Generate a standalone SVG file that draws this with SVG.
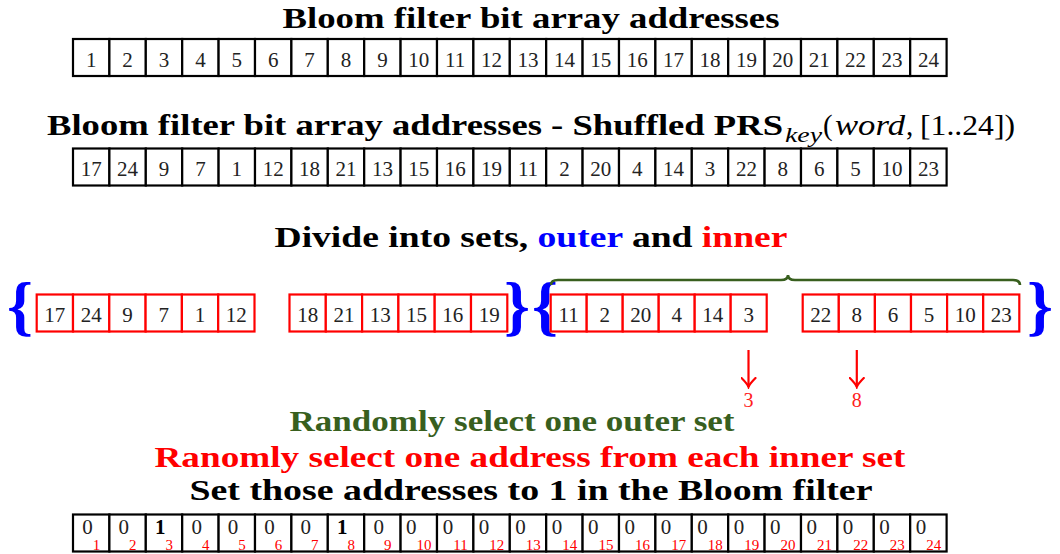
<svg xmlns="http://www.w3.org/2000/svg" width="1060" height="554" viewBox="0 0 1060 554" font-family="Liberation Serif, Times New Roman, Times, DejaVu Serif, Noto Serif, serif">
<style>
text{font-family:'Liberation Serif','Times New Roman',Times,'DejaVu Serif','Noto Serif',serif}
.t{font-weight:bold;font-size:29px;fill:#000;text-anchor:middle}
.c{fill:#fff;stroke:#000;stroke-width:2.2}
.r{fill:#fff;stroke:#ff0000;stroke-width:2.2}
.n{font-size:21px;fill:#222;text-anchor:middle}
.b{font-weight:bold;font-size:66px;fill:#0000ff;text-anchor:middle}
.s{font-size:15px;fill:#ff0000}
.lbl{font-size:20px;fill:#ff2020;text-anchor:middle}
.m{font-weight:normal}
.mi{font-weight:normal;font-style:italic}
</style>
<defs>
<marker id="ah" viewBox="-10 -8 12 16" markerWidth="12" markerHeight="16" refX="0" refY="0" orient="auto" markerUnits="userSpaceOnUse">
<path d="M-9,-7 Q-3,-1 0,0 Q-3,1 -9,7" fill="none" stroke="#ff0000" stroke-width="2.2" stroke-linecap="round"/>
</marker>
</defs>

<g id="title1"><text class="t" x="531" y="28" textLength="497" lengthAdjust="spacingAndGlyphs">Bloom filter bit array addresses</text></g>

<g id="array-addresses">
<rect class="c" x="73" y="39" width="36.4" height="37"/><rect class="c" x="109.4" y="39" width="36.4" height="37"/><rect class="c" x="145.8" y="39" width="36.4" height="37"/><rect class="c" x="182.2" y="39" width="36.4" height="37"/><rect class="c" x="218.6" y="39" width="36.4" height="37"/><rect class="c" x="255" y="39" width="36.4" height="37"/><rect class="c" x="291.4" y="39" width="36.4" height="37"/><rect class="c" x="327.8" y="39" width="36.4" height="37"/><rect class="c" x="364.2" y="39" width="36.4" height="37"/><rect class="c" x="400.6" y="39" width="36.4" height="37"/><rect class="c" x="437" y="39" width="36.4" height="37"/><rect class="c" x="473.4" y="39" width="36.4" height="37"/><rect class="c" x="509.8" y="39" width="36.4" height="37"/><rect class="c" x="546.2" y="39" width="36.4" height="37"/><rect class="c" x="582.6" y="39" width="36.4" height="37"/><rect class="c" x="619" y="39" width="36.4" height="37"/><rect class="c" x="655.4" y="39" width="36.4" height="37"/><rect class="c" x="691.8" y="39" width="36.4" height="37"/><rect class="c" x="728.2" y="39" width="36.4" height="37"/><rect class="c" x="764.6" y="39" width="36.4" height="37"/><rect class="c" x="801" y="39" width="36.4" height="37"/><rect class="c" x="837.4" y="39" width="36.4" height="37"/><rect class="c" x="873.8" y="39" width="36.4" height="37"/><rect class="c" x="910.2" y="39" width="36.4" height="37"/>
<text class="n" y="66.5"><tspan x="91.2">1</tspan><tspan x="127.6">2</tspan><tspan x="164">3</tspan><tspan x="200.4">4</tspan><tspan x="236.8">5</tspan><tspan x="273.2">6</tspan><tspan x="309.6">7</tspan><tspan x="346">8</tspan><tspan x="382.4">9</tspan><tspan x="418.8">10</tspan><tspan x="455.2">11</tspan><tspan x="491.6">12</tspan><tspan x="528">13</tspan><tspan x="564.4">14</tspan><tspan x="600.8">15</tspan><tspan x="637.2">16</tspan><tspan x="673.6">17</tspan><tspan x="710">18</tspan><tspan x="746.4">19</tspan><tspan x="782.8">20</tspan><tspan x="819.2">21</tspan><tspan x="855.6">22</tspan><tspan x="892">23</tspan><tspan x="928.4">24</tspan></text>
</g>

<g id="title2"><text class="t" x="47" y="135" style="text-anchor:start"><tspan textLength="736" lengthAdjust="spacingAndGlyphs">Bloom filter bit array addresses - Shuffled PRS</tspan><tspan class="mi" x="785" dy="7" style="font-size:20px" textLength="37" lengthAdjust="spacingAndGlyphs">key</tspan><tspan class="m" x="823" dy="-7">(</tspan><tspan class="mi" x="835" textLength="70" lengthAdjust="spacingAndGlyphs">word</tspan><tspan class="m" x="906">,</tspan><tspan class="m" x="920" textLength="95" lengthAdjust="spacingAndGlyphs">[1..24])</tspan></text></g>

<g id="array-shuffled">
<rect class="c" x="73" y="148.5" width="36.4" height="37"/><rect class="c" x="109.4" y="148.5" width="36.4" height="37"/><rect class="c" x="145.8" y="148.5" width="36.4" height="37"/><rect class="c" x="182.2" y="148.5" width="36.4" height="37"/><rect class="c" x="218.6" y="148.5" width="36.4" height="37"/><rect class="c" x="255" y="148.5" width="36.4" height="37"/><rect class="c" x="291.4" y="148.5" width="36.4" height="37"/><rect class="c" x="327.8" y="148.5" width="36.4" height="37"/><rect class="c" x="364.2" y="148.5" width="36.4" height="37"/><rect class="c" x="400.6" y="148.5" width="36.4" height="37"/><rect class="c" x="437" y="148.5" width="36.4" height="37"/><rect class="c" x="473.4" y="148.5" width="36.4" height="37"/><rect class="c" x="509.8" y="148.5" width="36.4" height="37"/><rect class="c" x="546.2" y="148.5" width="36.4" height="37"/><rect class="c" x="582.6" y="148.5" width="36.4" height="37"/><rect class="c" x="619" y="148.5" width="36.4" height="37"/><rect class="c" x="655.4" y="148.5" width="36.4" height="37"/><rect class="c" x="691.8" y="148.5" width="36.4" height="37"/><rect class="c" x="728.2" y="148.5" width="36.4" height="37"/><rect class="c" x="764.6" y="148.5" width="36.4" height="37"/><rect class="c" x="801" y="148.5" width="36.4" height="37"/><rect class="c" x="837.4" y="148.5" width="36.4" height="37"/><rect class="c" x="873.8" y="148.5" width="36.4" height="37"/><rect class="c" x="910.2" y="148.5" width="36.4" height="37"/>
<text class="n" y="175.5"><tspan x="91.2">17</tspan><tspan x="127.6">24</tspan><tspan x="164">9</tspan><tspan x="200.4">7</tspan><tspan x="236.8">1</tspan><tspan x="273.2">12</tspan><tspan x="309.6">18</tspan><tspan x="346">21</tspan><tspan x="382.4">13</tspan><tspan x="418.8">15</tspan><tspan x="455.2">16</tspan><tspan x="491.6">19</tspan><tspan x="528">11</tspan><tspan x="564.4">2</tspan><tspan x="600.8">20</tspan><tspan x="637.2">4</tspan><tspan x="673.6">14</tspan><tspan x="710">3</tspan><tspan x="746.4">22</tspan><tspan x="782.8">8</tspan><tspan x="819.2">6</tspan><tspan x="855.6">5</tspan><tspan x="892">10</tspan><tspan x="928.4">23</tspan></text>
</g>

<g id="title3"><text class="t" x="531" y="247" textLength="513" lengthAdjust="spacingAndGlyphs">Divide into sets, <tspan fill="#0000ff">outer</tspan> and <tspan fill="#ff0000">inner</tspan></text></g>

<g id="braces">
<text class="b" x="20" y="328">{</text>
<text class="b" x="517" y="328">}</text>
<text class="b" x="545" y="328">{</text>
<text class="b" x="1040" y="328">}</text>
<path d="M551,285 Q551,280 558,280 L781,280 Q788,280 788,275 Q788,280 795,280 L1013,280 Q1020,280 1020,285" fill="none" stroke="#385f1e" stroke-width="2.6"/>
</g>

<g id="inner-set-1">
<rect class="r" x="36.7" y="294.5" width="36.3" height="37"/><rect class="r" x="73" y="294.5" width="36.3" height="37"/><rect class="r" x="109.3" y="294.5" width="36.3" height="37"/><rect class="r" x="145.6" y="294.5" width="36.3" height="37"/><rect class="r" x="181.9" y="294.5" width="36.3" height="37"/><rect class="r" x="218.2" y="294.5" width="36.3" height="37"/>
<text class="n" y="321.5"><tspan x="54.85">17</tspan><tspan x="91.15">24</tspan><tspan x="127.45">9</tspan><tspan x="163.75">7</tspan><tspan x="200.05">1</tspan><tspan x="236.35">12</tspan></text>
</g>
<g id="inner-set-2">
<rect class="r" x="289.5" y="294.5" width="36.3" height="37"/><rect class="r" x="325.8" y="294.5" width="36.3" height="37"/><rect class="r" x="362.1" y="294.5" width="36.3" height="37"/><rect class="r" x="398.4" y="294.5" width="36.3" height="37"/><rect class="r" x="434.7" y="294.5" width="36.3" height="37"/><rect class="r" x="471" y="294.5" width="36.3" height="37"/>
<text class="n" y="321.5"><tspan x="307.65">18</tspan><tspan x="343.95">21</tspan><tspan x="380.25">13</tspan><tspan x="416.55">15</tspan><tspan x="452.85">16</tspan><tspan x="489.15">19</tspan></text>
</g>
<g id="inner-set-3">
<rect class="r" x="550.7" y="294.5" width="36" height="37"/><rect class="r" x="586.7" y="294.5" width="36" height="37"/><rect class="r" x="622.7" y="294.5" width="36" height="37"/><rect class="r" x="658.7" y="294.5" width="36" height="37"/><rect class="r" x="694.7" y="294.5" width="36" height="37"/><rect class="r" x="730.7" y="294.5" width="36" height="37"/>
<text class="n" y="321.5"><tspan x="568.7">11</tspan><tspan x="604.7">2</tspan><tspan x="640.7">20</tspan><tspan x="676.7">4</tspan><tspan x="712.7">14</tspan><tspan x="748.7">3</tspan></text>
</g>
<g id="inner-set-4">
<rect class="r" x="802.7" y="294.5" width="36.1" height="37"/><rect class="r" x="838.8" y="294.5" width="36.1" height="37"/><rect class="r" x="874.9" y="294.5" width="36.1" height="37"/><rect class="r" x="911" y="294.5" width="36.1" height="37"/><rect class="r" x="947.1" y="294.5" width="36.1" height="37"/><rect class="r" x="983.2" y="294.5" width="36.1" height="37"/>
<text class="n" y="321.5"><tspan x="820.75">22</tspan><tspan x="856.85">8</tspan><tspan x="892.95">6</tspan><tspan x="929.05">5</tspan><tspan x="965.15">10</tspan><tspan x="1001.25">23</tspan></text>
</g>

<g id="connectors">
<line x1="748.5" y1="350" x2="748.5" y2="387" stroke="#ff0000" stroke-width="2.2" marker-end="url(#ah)"/>
<line x1="856.8" y1="350" x2="856.8" y2="387" stroke="#ff0000" stroke-width="2.2" marker-end="url(#ah)"/>
</g>
<g id="picked">
<text class="lbl" x="748.5" y="407">3</text>
<text class="lbl" x="856.8" y="407">8</text>
</g>

<g id="captions">
<text class="t" x="512" y="431" style="fill:#385f1e" textLength="445" lengthAdjust="spacingAndGlyphs">Randomly select one outer set</text>
<text class="t" x="530" y="467" style="fill:#ff0000" textLength="751" lengthAdjust="spacingAndGlyphs">Ranomly select one address from each inner set</text>
<text class="t" x="531" y="500" textLength="683" lengthAdjust="spacingAndGlyphs">Set those addresses to 1 in the Bloom filter</text>
</g>

<g id="bloom-filter">
<rect class="c" x="73" y="514.5" width="36.4" height="37"/><rect class="c" x="109.4" y="514.5" width="36.4" height="37"/><rect class="c" x="145.8" y="514.5" width="36.4" height="37"/><rect class="c" x="182.2" y="514.5" width="36.4" height="37"/><rect class="c" x="218.6" y="514.5" width="36.4" height="37"/><rect class="c" x="255" y="514.5" width="36.4" height="37"/><rect class="c" x="291.4" y="514.5" width="36.4" height="37"/><rect class="c" x="327.8" y="514.5" width="36.4" height="37"/><rect class="c" x="364.2" y="514.5" width="36.4" height="37"/><rect class="c" x="400.6" y="514.5" width="36.4" height="37"/><rect class="c" x="437" y="514.5" width="36.4" height="37"/><rect class="c" x="473.4" y="514.5" width="36.4" height="37"/><rect class="c" x="509.8" y="514.5" width="36.4" height="37"/><rect class="c" x="546.2" y="514.5" width="36.4" height="37"/><rect class="c" x="582.6" y="514.5" width="36.4" height="37"/><rect class="c" x="619" y="514.5" width="36.4" height="37"/><rect class="c" x="655.4" y="514.5" width="36.4" height="37"/><rect class="c" x="691.8" y="514.5" width="36.4" height="37"/><rect class="c" x="728.2" y="514.5" width="36.4" height="37"/><rect class="c" x="764.6" y="514.5" width="36.4" height="37"/><rect class="c" x="801" y="514.5" width="36.4" height="37"/><rect class="c" x="837.4" y="514.5" width="36.4" height="37"/><rect class="c" x="873.8" y="514.5" width="36.4" height="37"/><rect class="c" x="910.2" y="514.5" width="36.4" height="37"/>
<text class="n" x="91.2" y="533.5">0<tspan class="s" dy="16">1</tspan></text>
<text class="n" x="127.6" y="533.5">0<tspan class="s" dy="16">2</tspan></text>
<text class="n" x="164" y="533.5" font-weight="bold" style="fill:#000">1<tspan class="s" dy="16" font-weight="normal">3</tspan></text>
<text class="n" x="200.4" y="533.5">0<tspan class="s" dy="16">4</tspan></text>
<text class="n" x="236.8" y="533.5">0<tspan class="s" dy="16">5</tspan></text>
<text class="n" x="273.2" y="533.5">0<tspan class="s" dy="16">6</tspan></text>
<text class="n" x="309.6" y="533.5">0<tspan class="s" dy="16">7</tspan></text>
<text class="n" x="346" y="533.5" font-weight="bold" style="fill:#000">1<tspan class="s" dy="16" font-weight="normal">8</tspan></text>
<text class="n" x="382.4" y="533.5">0<tspan class="s" dy="16">9</tspan></text>
<text class="n" x="418.8" y="533.5">0<tspan class="s" dy="16">10</tspan></text>
<text class="n" x="455.2" y="533.5">0<tspan class="s" dy="16">11</tspan></text>
<text class="n" x="491.6" y="533.5">0<tspan class="s" dy="16">12</tspan></text>
<text class="n" x="528" y="533.5">0<tspan class="s" dy="16">13</tspan></text>
<text class="n" x="564.4" y="533.5">0<tspan class="s" dy="16">14</tspan></text>
<text class="n" x="600.8" y="533.5">0<tspan class="s" dy="16">15</tspan></text>
<text class="n" x="637.2" y="533.5">0<tspan class="s" dy="16">16</tspan></text>
<text class="n" x="673.6" y="533.5">0<tspan class="s" dy="16">17</tspan></text>
<text class="n" x="710" y="533.5">0<tspan class="s" dy="16">18</tspan></text>
<text class="n" x="746.4" y="533.5">0<tspan class="s" dy="16">19</tspan></text>
<text class="n" x="782.8" y="533.5">0<tspan class="s" dy="16">20</tspan></text>
<text class="n" x="819.2" y="533.5">0<tspan class="s" dy="16">21</tspan></text>
<text class="n" x="855.6" y="533.5">0<tspan class="s" dy="16">22</tspan></text>
<text class="n" x="892" y="533.5">0<tspan class="s" dy="16">23</tspan></text>
<text class="n" x="928.4" y="533.5">0<tspan class="s" dy="16">24</tspan></text>
</g>
</svg>
